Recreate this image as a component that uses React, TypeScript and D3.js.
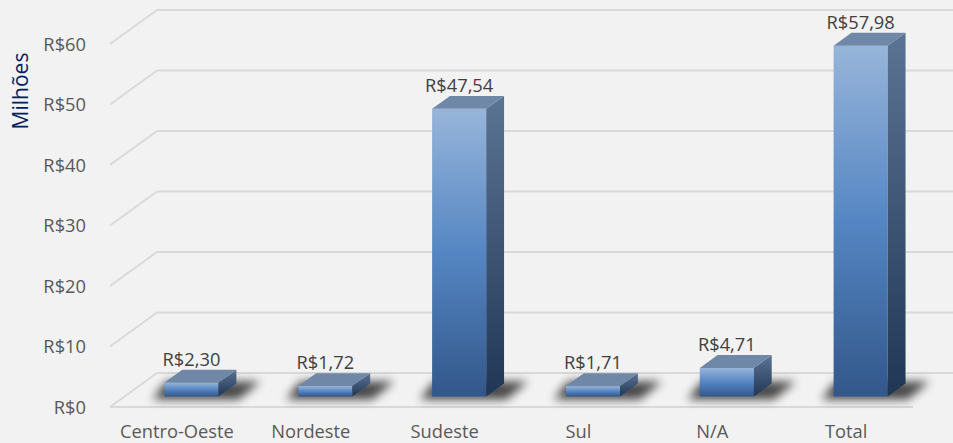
import React from "react";
import * as d3 from "d3";

const categories = ["Centro-Oeste", "Nordeste", "Sudeste", "Sul", "N/A", "Total"];
const values = [2.3, 1.72, 47.54, 1.71, 4.71, 57.98];
const valueLabels = ["R$2,30", "R$1,72", "R$47,54", "R$1,71", "R$4,71", "R$57,98"];
const ticks = [0, 10, 20, 30, 40, 50, 60];
const tickLabels = ["R$0", "R$10", "R$20", "R$30", "R$40", "R$50", "R$60"];
const axisTitle = "Milhões";

const W = 953;
const H = 443;
const FRONT_LEFT = 110;
const FRONT_RIGHT = 913;
const FLOOR_Y = 407;
const DEPTH_X = 47;
const DEPTH_Y = -34;
const F0 = 0.31;
const F1 = 0.69;
const FONT = "'Open Sans', 'Liberation Sans', sans-serif";
const FS = 18.3;

export default function App() {
  const x = d3
    .scaleBand<string>()
    .domain(categories)
    .range([FRONT_LEFT, FRONT_RIGHT])
    .paddingInner(0.596)
    .paddingOuter(0.298);
  const y = d3.scaleLinear().domain([0, 60]).range([FLOOR_Y, FLOOR_Y - 363]);

  const bdx = DEPTH_X * (F1 - F0);
  const bdy = DEPTH_Y * (F1 - F0);
  const pts = (a: number[][]) => a.map((p) => p.join(",")).join(" ");

  return (
    <svg
      width={W}
      height={H}
      style={{ position: "absolute", left: 0, top: 0, background: "#f2f2f2" }}
    >
      <defs>
        <linearGradient id="front" x1="0" y1="0" x2="0" y2="1">
          <stop offset="0" stopColor="#97b5da" />
          <stop offset="0.5" stopColor="#5586c3" />
          <stop offset="1" stopColor="#32578a" />
        </linearGradient>
        <linearGradient id="side" x1="0" y1="0" x2="0" y2="1">
          <stop offset="0" stopColor="#5c7494" />
          <stop offset="1" stopColor="#203655" />
        </linearGradient>
        <filter id="blur" x="-50%" y="-200%" width="200%" height="500%">
          <feGaussianBlur stdDeviation="5" />
        </filter>
      </defs>
      <rect x={0} y={0} width={W} height={H} fill="#f2f2f2" />
      {ticks.map((t) => {
        const yf = y(t);
        const yb = yf + DEPTH_Y;
        return (
          <g key={t}>
            <line x1={FRONT_LEFT} y1={yf} x2={FRONT_LEFT + DEPTH_X} y2={yb} stroke="#d9d9d9" strokeWidth={2} />
            <line x1={FRONT_LEFT + DEPTH_X} y1={yb} x2={FRONT_RIGHT + DEPTH_X} y2={yb} stroke="#d9d9d9" strokeWidth={2} />
          </g>
        );
      })}
      <line x1={FRONT_LEFT} y1={FLOOR_Y} x2={FRONT_RIGHT} y2={FLOOR_Y} stroke="#d9d9d9" strokeWidth={2} />
      {ticks.map((t, i) => (
        <text
          key={t}
          x={86}
          y={y(t)}
          dy="0.36em"
          textAnchor="end"
          fontFamily={FONT}
          fontSize={FS}
          fill="#595959"
        >
          {tickLabels[i]}
        </text>
      ))}
      <text
        transform={`translate(28,91) rotate(-90)`}
        textAnchor="middle"
        fontFamily={FONT}
        fontSize={21}
        fill="#002060"
      >
        {axisTitle}
      </text>
      {categories.map((c, i) => {
        const x0 = (x(c) as number) + DEPTH_X * F0;
        const x1 = x0 + x.bandwidth();
        const yB = FLOOR_Y + DEPTH_Y * F0;
        const yT = y(values[i]) + DEPTH_Y * F0;
        const shadow = [
          [x0 - 12, yB + 3],
          [x1 + 20, yB + 3],
          [x1 + bdx + 24, yB + bdy - 2],
          [x0 + bdx - 16, yB + bdy - 2],
        ];
        return (
          <g key={c}>
            <polygon points={pts(shadow)} fill="#000" opacity={0.7} filter="url(#blur)" />
            <rect x={x0} y={yT} width={x1 - x0} height={yB - yT} fill="url(#front)" />
            <polygon
              points={pts([
                [x1, yT],
                [x1 + bdx, yT + bdy],
                [x1 + bdx, yB + bdy],
                [x1, yB],
              ])}
              fill="url(#side)"
            />
            <polygon
              points={pts([
                [x0, yT],
                [x1, yT],
                [x1 + bdx, yT + bdy],
                [x0 + bdx, yT + bdy],
              ])}
              fill="#6f88a8"
            />
            <text
              x={(x0 + x1) / 2}
              y={yT + bdy - 4}
              textAnchor="middle"
              fontFamily={FONT}
              fontSize={FS}
              fill="#404040"
            >
              {valueLabels[i]}
            </text>
            <text
              x={(x(c) as number) + x.bandwidth() / 2}
              y={438}
              textAnchor="middle"
              fontFamily={FONT}
              fontSize={FS}
              fill="#595959"
            >
              {c}
            </text>
          </g>
        );
      })}
    </svg>
  );
}
